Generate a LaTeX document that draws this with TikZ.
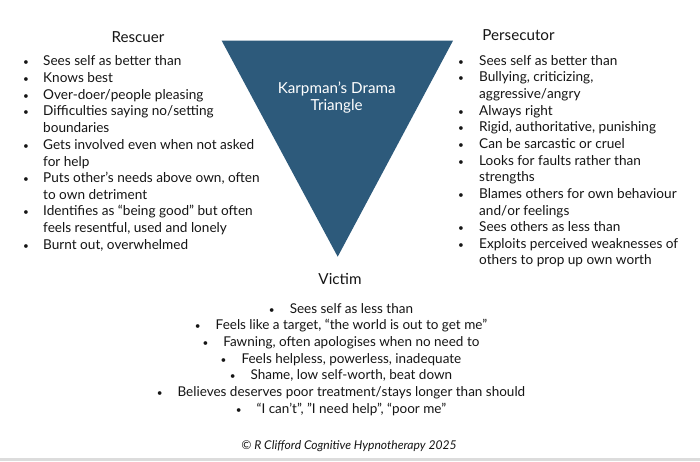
\documentclass[tikz,border=0pt]{standalone}
\usepackage{fontspec}
\setmainfont{Lato}
\definecolor{triblue}{HTML}{2D5A7B}
\definecolor{inkc}{HTML}{151515}
\definecolor{stripgray}{HTML}{DCDCDC}
\begin{document}
\begin{tikzpicture}[x=1pt,y=-1pt,
  txt/.style={anchor=mid west,inner sep=0pt,text=inkc,font=\fontsize{13.6}{16}\selectfont},
  bul/.style={anchor=mid,inner sep=0pt,text=inkc,font=\fontsize{10}{12}\selectfont},
  ttl/.style={anchor=mid,inner sep=0pt,text=inkc,font=\fontsize{15.2}{18}\selectfont},
  ctr/.style={anchor=mid,inner sep=0pt,text=inkc,font=\fontsize{13.5}{16}\selectfont},
  tritxt/.style={anchor=mid,inner sep=0pt,text=white,font=\fontsize{15.2}{18}\selectfont},
  cpy/.style={anchor=mid,inner sep=0pt,text=inkc,font=\fontsize{12.1}{14}\selectfont\itshape}]
\useasboundingbox (0,0) rectangle (700,461);
\fill[white] (0,0) rectangle (700,461);
\fill[stripgray] (0,458) rectangle (700,461);
% triangle
\coordinate (tl) at (221.7,40.7);
\coordinate (tr) at (453,40.7);
\coordinate (tb) at (337.7,256.7);
\fill[triblue] (tl) -- (tr) -- (tb) -- cycle;
\node[tritxt] (k1) at (336.7,91) {Karpman’s Drama};
\node[tritxt] (k2) at (336.7,107.5) {Triangle};
% Rescuer
\node[ttl] (rt) at (138,40) {Rescuer};
\foreach \y/\t [count=\i] in {63/Sees self as better than,80/Knows best,96.7/Over-doer\slash people pleasing,113.3/Difficulties saying no\slash setting,147/Gets involved even when not asked,180/{Puts other’s needs above own, often},213.3/Identifies as “being good” but often,247/{Burnt out, overwhelmed}}{
  \node[bul] (rb\i) at (26,\y) {•};
  \node[txt] (r\i) at (43,\y) {\t};
}
\node[txt] (r4b) at (43,130) {boundaries};
\node[txt] (r5b) at (43,163.7) {for help};
\node[txt] (r6b) at (43,196.7) {to own detriment};
\node[txt] (r7b) at (43,230) {feels resentful, used and lonely};
% Persecutor
\node[ttl] (pt) at (518.5,38) {Persecutor};
\foreach \y/\t [count=\i] in {62.7/Sees self as better than,79.3/{Bullying, criticizing,},112.7/Always right,129.3/{Rigid, authoritative, punishing},146/Can be sarcastic or cruel,162.7/Looks for faults rather than,196/Blames others for own behaviour,229/Sees others as less than,245.7/Exploits perceived weaknesses of}{
  \node[bul] (pb\i) at (461,\y) {•};
  \node[txt] (p\i) at (479,\y) {\t};
}
\node[txt] (p2b) at (479,96) {aggressive\slash angry};
\node[txt] (p6b) at (479,179.3) {strengths};
\node[txt] (p7b) at (479,212.7) {and\slash or feelings};
\node[txt] (p9b) at (479,262.3) {others to prop up own worth};
% Victim
\node[ttl] (vt) at (340,281.7) {Victim};
\foreach \y/\t [count=\i] in {310.7/Sees self as less than,327.3/{Feels like a target, “the world is out to get me”},344/{Fawning, often apologises when no need to},360.7/{Feels helpless, powerless, inadequate},377.3/{Shame, low self-worth, beat down},394/Believes deserves poor treatment\slash stays longer than should,410.7/{“I can’t”, ”I need help”, “poor me"}}{
  \node[ctr] (v\i) at (341,\y) {{\fontsize{10}{12}\selectfont •}\hspace{15pt}\t};
}
\node[cpy] (cp) at (349,447) {© R Clifford Cognitive Hypnotherapy 2025};
\end{tikzpicture}
\end{document}
